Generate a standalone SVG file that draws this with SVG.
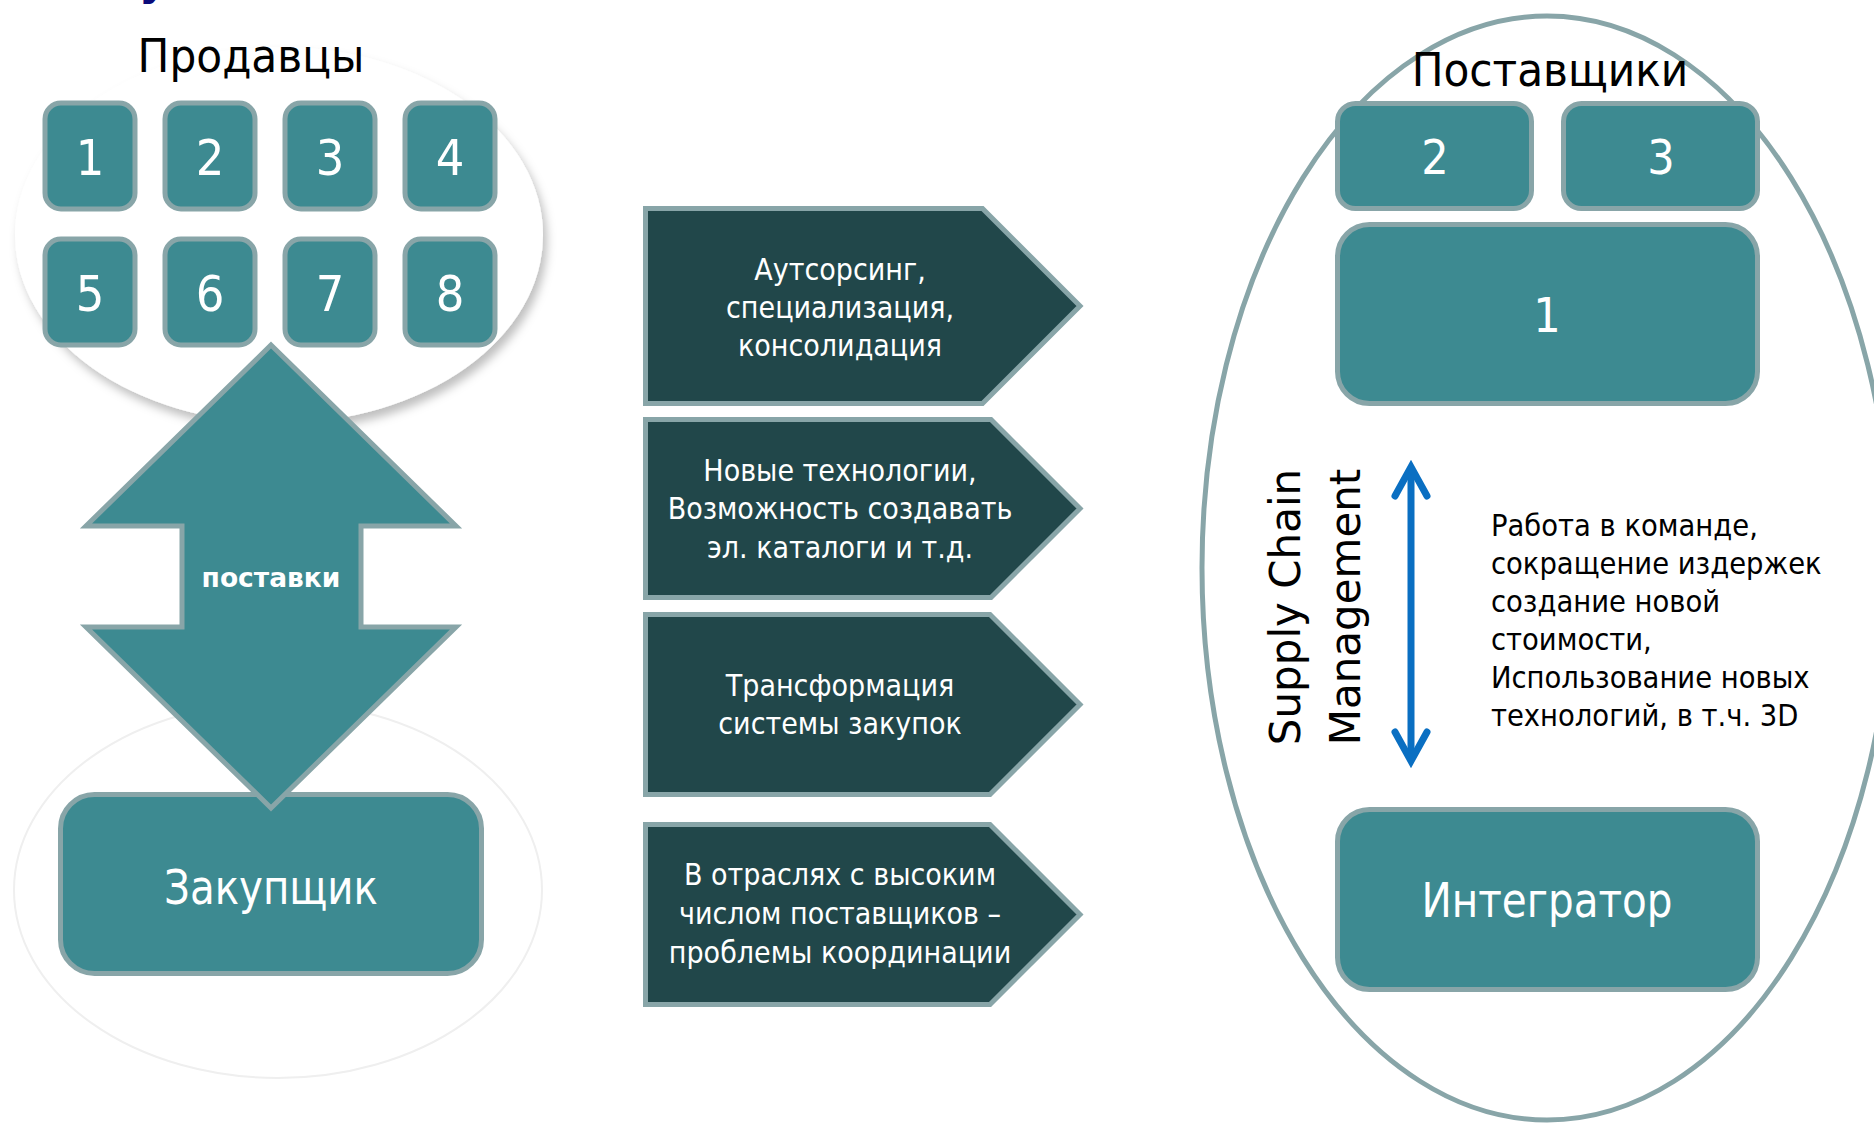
<svg xmlns="http://www.w3.org/2000/svg" width="1874" height="1124" viewBox="0 0 1874 1124">
  <defs>
    <filter id="shadow" x="-10%" y="-10%" width="125%" height="130%">
      <feDropShadow dx="4" dy="7" stdDeviation="5" flood-color="#000000" flood-opacity="0.25"/>
    </filter>
    <style>
      .box { fill: #3D8A91; stroke: #88A5A8; stroke-width: 5; }
      .chev { fill: #21474A; stroke: #88A5A8; stroke-width: 5; stroke-linejoin: miter; }
      .num { font-family: "DejaVu Sans Condensed", "DejaVu Sans", sans-serif; font-size: 50px; fill: #FFFFFF; text-anchor: middle; }
      .big { font-family: "DejaVu Sans Condensed", "DejaVu Sans", sans-serif; font-size: 48px; fill: #FFFFFF; text-anchor: middle; }
      .title { font-family: "DejaVu Sans Condensed", "DejaVu Sans", sans-serif; font-size: 47px; fill: #000000; text-anchor: middle; }
      .mid { font-family: "DejaVu Sans Condensed", "DejaVu Sans", sans-serif; font-size: 30px; fill: #FFFFFF; text-anchor: middle; }
      .side { font-family: "DejaVu Sans Condensed", "DejaVu Sans", sans-serif; font-size: 30.5px; fill: #000000; }
      .scm { font-family: "DejaVu Sans", sans-serif; font-size: 42px; fill: #000000; text-anchor: middle; }
      .blue { fill: none; stroke: #0A6FC2; stroke-width: 7; stroke-linecap: round; stroke-linejoin: miter; }
    </style>
  </defs>
  <rect x="0" y="0" width="1874" height="1124" fill="#FFFFFF"/>

  <!-- cut-off title fragment -->
  <text x="139" y="-5" font-family="DejaVu Sans, sans-serif" font-size="44" font-weight="bold" fill="#0A0A7A">у</text>

  <!-- background ellipses -->
  <g id="sellers-area">
    <ellipse cx="279" cy="235" rx="264" ry="188" fill="#FFFFFF" filter="url(#shadow)"/>
  </g>
  <g id="buyer-area">
    <ellipse cx="278" cy="890" rx="264" ry="188" fill="none" stroke="#EFEFEF" stroke-width="2"/>
  </g>
  <g id="suppliers-area">
    <ellipse cx="1547" cy="568" rx="345" ry="552" fill="none" stroke="#88A5A8" stroke-width="5"/>
  </g>

  <!-- Sellers -->
  <g id="sellers-title"><text class="title" x="251" y="72">Продавцы</text></g>
  <g id="seller-1"><rect class="box" x="45" y="103" width="90" height="106" rx="16"/><text class="num" x="90" y="175">1</text></g>
  <g id="seller-2"><rect class="box" x="165" y="103" width="90" height="106" rx="16"/><text class="num" x="210" y="175">2</text></g>
  <g id="seller-3"><rect class="box" x="285" y="103" width="90" height="106" rx="16"/><text class="num" x="330" y="175">3</text></g>
  <g id="seller-4"><rect class="box" x="405" y="103" width="90" height="106" rx="16"/><text class="num" x="450" y="175">4</text></g>
  <g id="seller-5"><rect class="box" x="45" y="239" width="90" height="106" rx="16"/><text class="num" x="90" y="311">5</text></g>
  <g id="seller-6"><rect class="box" x="165" y="239" width="90" height="106" rx="16"/><text class="num" x="210" y="311">6</text></g>
  <g id="seller-7"><rect class="box" x="285" y="239" width="90" height="106" rx="16"/><text class="num" x="330" y="311">7</text></g>
  <g id="seller-8"><rect class="box" x="405" y="239" width="90" height="106" rx="16"/><text class="num" x="450" y="311">8</text></g>

  <!-- Buyer -->
  <g id="buyer">
    <rect class="box" x="60.5" y="794.5" width="421" height="179" rx="34"/>
    <text class="big" x="271" y="904" font-size="50" textLength="214" lengthAdjust="spacingAndGlyphs">Закупщик</text>
  </g>

  <!-- Connectors -->
  <g id="connectors">
    <g id="supplies-arrow">
      <polygon class="box" points="271,345 456,526 361,526 361,627 456,627 271,808 86,627 182,627 182,526 86,526"/>
      <text x="271" y="587" font-family="DejaVu Sans, sans-serif" font-size="26.5" font-weight="bold" fill="#FFFFFF" text-anchor="middle">поставки</text>
    </g>
    <g id="scm-arrow">
      <line class="blue" x1="1411" y1="469" x2="1411" y2="759"/>
      <polyline class="blue" points="1395,496 1411,467 1427,496"/>
      <polyline class="blue" points="1395,732 1411,761 1427,732"/>
    </g>
  </g>

  <!-- Middle chevrons -->
  <g id="trend-1">
    <path class="chev" d="M645.5,208.5 H982.5 L1080,306 L982.5,403.5 H645.5 Z"/>
    <text class="mid" x="840" y="280">Аутсорсинг,</text>
    <text class="mid" x="840" y="318">специализация,</text>
    <text class="mid" x="840" y="356">консолидация</text>
  </g>
  <g id="trend-2">
    <path class="chev" d="M645.5,419.5 H991 L1080,508.5 L991,597.5 H645.5 Z"/>
    <text class="mid" x="840" y="481">Новые технологии,</text>
    <text class="mid" x="840" y="519">Возможность создавать</text>
    <text class="mid" x="840" y="558">эл. каталоги и т.д.</text>
  </g>
  <g id="trend-3">
    <path class="chev" d="M645.5,614.5 H990 L1080,704.5 L990,794.5 H645.5 Z"/>
    <text class="mid" x="840" y="696">Трансформация</text>
    <text class="mid" x="840" y="734">системы закупок</text>
  </g>
  <g id="trend-4">
    <path class="chev" d="M645.5,824.5 H990 L1080,914.5 L990,1004.5 H645.5 Z"/>
    <text class="mid" x="840" y="885">В отраслях с высоким</text>
    <text class="mid" x="840" y="924">числом поставщиков –</text>
    <text class="mid" x="840" y="963">проблемы координации</text>
  </g>

  <!-- Suppliers -->
  <g id="suppliers-title"><text class="title" x="1550" y="86" font-size="46">Поставщики</text></g>
  <g id="supplier-2"><rect class="box" x="1337.5" y="103.5" width="194" height="105" rx="18"/><text class="big" x="1435" y="174">2</text></g>
  <g id="supplier-3"><rect class="box" x="1563.5" y="103.5" width="194" height="105" rx="18"/><text class="big" x="1661" y="174">3</text></g>
  <g id="supplier-1"><rect class="box" x="1337.5" y="224.5" width="420" height="179" rx="32"/><text class="big" x="1547" y="332">1</text></g>
  <g id="integrator"><rect class="box" x="1337.5" y="809.5" width="420" height="180" rx="32"/><text class="big" x="1547" y="917" textLength="251" lengthAdjust="spacingAndGlyphs">Интегратор</text></g>

  <g id="scm-label">
    <text class="scm" transform="translate(1300,607) rotate(-90)">Supply Chain</text>
    <text class="scm" transform="translate(1360,607) rotate(-90)">Management</text>
  </g>

  <g id="benefits">
    <text class="side" x="1491" y="536">Работа в команде,</text>
    <text class="side" x="1491" y="574">сокращение издержек</text>
    <text class="side" x="1491" y="612">создание новой</text>
    <text class="side" x="1491" y="650">стоимости,</text>
    <text class="side" x="1491" y="688">Использование новых</text>
    <text class="side" x="1491" y="726">технологий, в т.ч. 3D</text>
  </g>
</svg>
